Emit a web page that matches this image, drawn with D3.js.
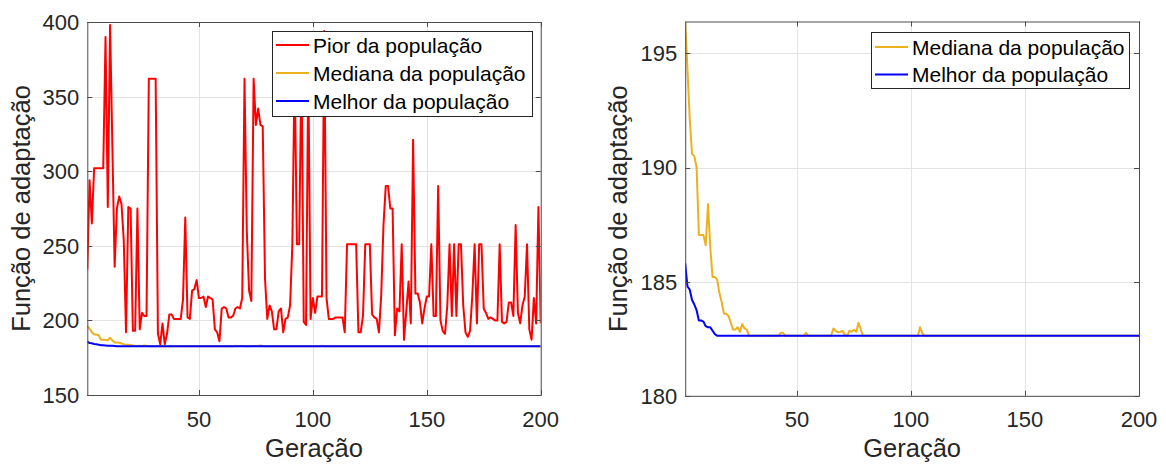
<!DOCTYPE html>
<html>
<head>
<meta charset="utf-8">
<script src="https://cdn.jsdelivr.net/npm/d3@7"></script>
<style>
  html, body { margin: 0; padding: 0; background: #ffffff; }
  svg { display: block; font-family: "Liberation Sans", Arial, Helvetica, sans-serif; }
</style>
</head>
<body>
<svg id="chart" width="1166" height="464"></svg>
<script>
// ---------------- DATA ----------------
const pior = [
  234, 294, 265, 302, 302, 302, 302, 302, 390, 276,
  398, 317, 236, 275, 283, 278, 254, 192, 276, 275,
  193, 193, 275, 194, 205, 203, 203, 362, 362, 362,
  362, 191, 184, 198, 184, 191, 204, 204, 201, 201,
  201, 201, 214, 269, 202, 201, 220, 221, 227, 215,
  215, 216, 209, 216, 215, 214, 194, 192, 186, 208,
  209, 208, 202, 202, 203, 208, 209, 208, 215, 362,
  260, 220, 213, 362, 331, 342, 331, 330, 228, 201,
  210, 206, 194, 194, 206, 208, 192, 201, 202, 210,
  251, 370, 251, 251, 375, 199, 197, 370, 201, 215,
  205, 216, 216, 216, 394, 215, 201, 201, 201, 202,
  202, 202, 202, 192, 251, 251, 251, 251, 251, 192,
  192, 203, 251, 251, 251, 204, 202, 201, 192, 217,
  264, 290, 290, 275, 275, 190, 208, 206, 251, 187,
  206, 226, 198, 321, 218, 218, 212, 198, 208, 216,
  216, 251, 203, 203, 290, 200, 193, 191, 210, 251,
  203, 251, 203, 251, 251, 210, 192, 189, 193, 217,
  251, 198, 251, 251, 208, 205, 201, 202, 201, 200,
  200, 251, 199, 198, 199, 212, 212, 203, 264, 205,
  198, 210, 216, 251, 194, 187, 215, 198, 276, 198
];

const mediana = [
  196.4, 194.3, 192.1, 190.6, 190.5, 190.0, 187.05, 187.05, 187.05, 186.6,
  188.4, 186.5, 185.2, 185.2, 185.1, 184.5, 184.1, 183.6, 183.6, 183.5,
  183.2, 182.9, 182.9, 183.0, 182.8, 183.15, 182.95, 182.9, 182.63, 182.63,
  182.63, 182.63, 182.63, 182.63, 182.63, 182.63, 182.63, 182.63, 182.63, 182.63,
  182.63, 182.63, 182.77, 182.75, 182.63, 182.63, 182.63, 182.63, 182.63, 182.63,
  182.63, 182.63, 182.63, 182.76, 182.63, 182.63, 182.63, 182.63, 182.63, 182.63,
  182.63, 182.63, 182.63, 182.63, 182.63, 182.95, 182.85, 182.78, 182.8, 182.85,
  182.66, 182.63, 182.85, 182.8, 182.9, 182.8, 183.2, 182.9, 182.63, 182.63,
  182.63, 182.63, 182.63, 182.63, 182.63, 182.63, 182.63, 182.63, 182.63, 182.63,
  182.63, 182.63, 182.63, 182.63, 182.63, 182.63, 182.63, 182.63, 182.63, 182.63,
  182.63, 182.63, 182.63, 183.0, 182.75, 182.63, 182.63, 182.63, 182.63, 182.63,
  182.63, 182.63, 182.63, 182.63, 182.63, 182.63, 182.63, 182.63, 182.63, 182.63,
  182.63, 182.63, 182.63, 182.63, 182.63, 182.63, 182.63, 182.63, 182.63, 182.63,
  182.63, 182.63, 182.63, 182.63, 182.63, 182.63, 182.63, 182.63, 182.63, 182.63,
  182.63, 182.63, 182.63, 182.63, 182.63, 182.63, 182.63, 182.63, 182.63, 182.63,
  182.63, 182.63, 182.63, 182.63, 182.63, 182.63, 182.63, 182.63, 182.63, 182.63,
  182.63, 182.63, 182.63, 182.63, 182.63, 182.63, 182.63, 182.63, 182.63, 182.63,
  182.63, 182.63, 182.63, 182.63, 182.63, 182.63, 182.63, 182.63, 182.63, 182.63,
  182.63, 182.63, 182.63, 182.63, 182.63, 182.63, 182.63, 182.63, 182.63, 182.63,
  182.63, 182.63, 182.63, 182.63, 182.63, 182.63, 182.63, 182.63, 182.63, 182.63
];

const melhor = [
  185.8, 184.78, 184.65, 184.2, 184.0, 183.75, 183.3, 183.3, 183.25, 183.05,
  183.0, 183.0, 182.85, 182.7, 182.63, 182.63, 182.63, 182.63, 182.63, 182.63,
  182.63, 182.63, 182.63, 182.63, 182.63, 182.63, 182.63, 182.63, 182.63, 182.63,
  182.63, 182.63, 182.63, 182.63, 182.63, 182.63, 182.63, 182.63, 182.63, 182.63,
  182.63, 182.63, 182.63, 182.63, 182.63, 182.63, 182.63, 182.63, 182.63, 182.63,
  182.63, 182.63, 182.63, 182.63, 182.63, 182.63, 182.63, 182.63, 182.63, 182.63,
  182.63, 182.63, 182.63, 182.63, 182.63, 182.63, 182.63, 182.63, 182.63, 182.63,
  182.63, 182.63, 182.63, 182.63, 182.63, 182.63, 182.63, 182.63, 182.63, 182.63,
  182.63, 182.63, 182.63, 182.63, 182.63, 182.63, 182.63, 182.63, 182.63, 182.63,
  182.63, 182.63, 182.63, 182.63, 182.63, 182.63, 182.63, 182.63, 182.63, 182.63,
  182.63, 182.63, 182.63, 182.63, 182.63, 182.63, 182.63, 182.63, 182.63, 182.63,
  182.63, 182.63, 182.63, 182.63, 182.63, 182.63, 182.63, 182.63, 182.63, 182.63,
  182.63, 182.63, 182.63, 182.63, 182.63, 182.63, 182.63, 182.63, 182.63, 182.63,
  182.63, 182.63, 182.63, 182.63, 182.63, 182.63, 182.63, 182.63, 182.63, 182.63,
  182.63, 182.63, 182.63, 182.63, 182.63, 182.63, 182.63, 182.63, 182.63, 182.63,
  182.63, 182.63, 182.63, 182.63, 182.63, 182.63, 182.63, 182.63, 182.63, 182.63,
  182.63, 182.63, 182.63, 182.63, 182.63, 182.63, 182.63, 182.63, 182.63, 182.63,
  182.63, 182.63, 182.63, 182.63, 182.63, 182.63, 182.63, 182.63, 182.63, 182.63,
  182.63, 182.63, 182.63, 182.63, 182.63, 182.63, 182.63, 182.63, 182.63, 182.63,
  182.63, 182.63, 182.63, 182.63, 182.63, 182.63, 182.63, 182.63, 182.63, 182.63
];

const geracoes = d3.range(1, pior.length + 1);

const xTicks = [50, 100, 150, 200];
const yTicksLeft = [150, 200, 250, 300, 350, 400];
const yTicksRight = [180, 185, 190, 195];

const xLabel = "Geração";
const yLabel = "Função de adaptação";
const legendLeft = ["Pior da população", "Mediana da população", "Melhor da população"];
const legendRight = ["Mediana da população", "Melhor da população"];

// ---------------- STYLE ----------------
const C_RED = "#ff0000";
const C_ORANGE = "#edb120";
const C_BLUE = "#0000ff";
const C_TEXT = "#262626";
const C_AXIS = "#4d4d4d";
const C_GRID = "#e3e3e3";

const svg = d3.select("#chart");

function panel(cfg) {
  const x = d3.scaleLinear().domain([1, 200]).range([cfg.left, cfg.right]);
  const y = d3.scaleLinear().domain(cfg.yDomain).range([cfg.bottom, cfg.top]);
  const g = svg.append("g");

  // grid
  g.selectAll(".gx").data(xTicks).enter().append("line")
    .attr("x1", d => Math.round(x(d)) + 0.5).attr("x2", d => Math.round(x(d)) + 0.5)
    .attr("y1", cfg.top).attr("y2", cfg.bottom)
    .attr("stroke", C_GRID).attr("stroke-width", 1);
  g.selectAll(".gy").data(cfg.yTicks).enter().append("line")
    .attr("x1", cfg.left).attr("x2", cfg.right)
    .attr("y1", d => Math.round(y(d)) + 0.5).attr("y2", d => Math.round(y(d)) + 0.5)
    .attr("stroke", C_GRID).attr("stroke-width", 1);

  // clip
  const clipId = "clip" + cfg.id;
  svg.append("clipPath").attr("id", clipId).append("rect")
    .attr("x", cfg.left).attr("y", cfg.top - 1)
    .attr("width", cfg.right - cfg.left).attr("height", cfg.bottom - cfg.top + 1);

  const line = d3.line().x((d, i) => x(geracoes[i])).y(d => y(d));
  const lg = g.append("g").attr("clip-path", `url(#${clipId})`);
  cfg.series.forEach(s => {
    lg.append("path").datum(s.data)
      .attr("d", line).attr("fill", "none")
      .attr("stroke", s.color).attr("stroke-width", 2)
      .attr("stroke-linejoin", "round");
  });

  // box
  g.append("rect")
    .attr("x", cfg.left + 0.5).attr("y", cfg.top + 0.5)
    .attr("width", cfg.right - cfg.left).attr("height", cfg.bottom - cfg.top)
    .attr("fill", "none").attr("stroke", C_AXIS).attr("stroke-width", 1);

  // ticks (inward, all sides)
  const tl = 5;
  xTicks.forEach(t => {
    const xx = Math.round(x(t)) + 0.5;
    g.append("line").attr("x1", xx).attr("x2", xx).attr("y1", cfg.bottom).attr("y2", cfg.bottom - tl).attr("stroke", C_AXIS);
    g.append("line").attr("x1", xx).attr("x2", xx).attr("y1", cfg.top).attr("y2", cfg.top + tl).attr("stroke", C_AXIS);
  });
  cfg.yTicks.forEach(t => {
    const yy = Math.round(y(t)) + 0.5;
    g.append("line").attr("x1", cfg.left).attr("x2", cfg.left + tl).attr("y1", yy).attr("y2", yy).attr("stroke", C_AXIS);
    g.append("line").attr("x1", cfg.right).attr("x2", cfg.right - tl).attr("y1", yy).attr("y2", yy).attr("stroke", C_AXIS);
  });

  // tick labels
  g.selectAll(".xt").data(xTicks).enter().append("text")
    .attr("x", d => x(d)).attr("y", 427)
    .attr("text-anchor", "middle").attr("fill", C_TEXT)
    .style("font-size", "22px").text(d => d);
  g.selectAll(".yt").data(cfg.yTicks).enter().append("text")
    .attr("x", cfg.left - 8).attr("y", d => y(d)).attr("dy", "0.36em")
    .attr("text-anchor", "end").attr("fill", C_TEXT)
    .style("font-size", "22px").text(d => d);

  // axis labels
  g.append("text")
    .attr("x", (cfg.left + cfg.right) / 2).attr("y", 457)
    .attr("text-anchor", "middle").attr("fill", C_TEXT)
    .style("font-size", "25.5px").text(xLabel);
  g.append("text")
    .attr("transform", `translate(${cfg.yLabelX},${(cfg.top + cfg.bottom) / 2}) rotate(-90)`)
    .attr("text-anchor", "middle").attr("fill", C_TEXT)
    .style("font-size", "25.5px").text(yLabel);

  // legend
  const L = cfg.legend;
  const lgd = g.append("g");
  lgd.append("rect")
    .attr("x", L.x + 0.5).attr("y", L.y + 0.5).attr("width", L.w).attr("height", L.h)
    .attr("fill", "#ffffff").attr("stroke", C_TEXT).attr("stroke-width", 1);
  L.items.forEach((it, i) => {
    const cy = L.firstRow + i * L.rowGap;
    lgd.append("line").attr("x1", L.x + 4).attr("x2", L.x + 37)
      .attr("y1", cy).attr("y2", cy).attr("stroke", it.color).attr("stroke-width", 2);
    lgd.append("text").attr("x", L.x + 41).attr("y", cy).attr("dy", "0.36em")
      .attr("fill", "#000000").style("font-size", "21px").text(it.label);
  });
}

panel({
  id: "L", left: 87.3, right: 540.7, top: 22, bottom: 395,
  yDomain: [150, 400], yTicks: yTicksLeft, yLabelX: 29.5,
  series: [
    { data: pior, color: C_RED },
    { data: mediana, color: C_ORANGE },
    { data: melhor, color: C_BLUE }
  ],
  legend: {
    x: 272, y: 31, w: 260, h: 85, firstRow: 45, rowGap: 28,
    items: [
      { label: legendLeft[0], color: C_RED },
      { label: legendLeft[1], color: C_ORANGE },
      { label: legendLeft[2], color: C_BLUE }
    ]
  }
});

panel({
  id: "R", left: 685.2, right: 1139, top: 21.5, bottom: 395.8,
  yDomain: [180, 196.4], yTicks: yTicksRight, yLabelX: 627,
  series: [
    { data: mediana, color: C_ORANGE },
    { data: melhor, color: C_BLUE }
  ],
  legend: {
    x: 871, y: 32, w: 258, h: 56, firstRow: 47, rowGap: 27.5,
    items: [
      { label: legendRight[0], color: C_ORANGE },
      { label: legendRight[1], color: C_BLUE }
    ]
  }
});
</script>
</body>
</html>
